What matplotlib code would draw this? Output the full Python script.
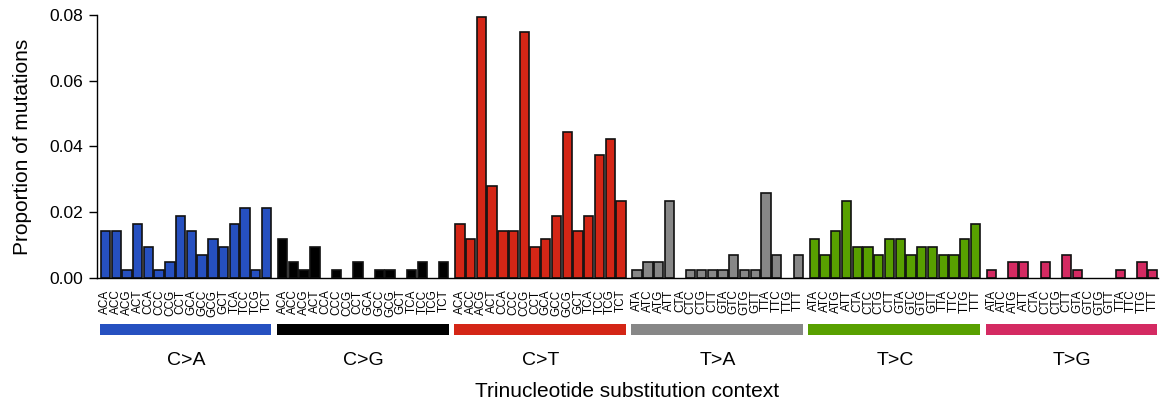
import matplotlib
matplotlib.use('Agg')
import matplotlib.pyplot as plt
from matplotlib.patches import Rectangle

plt.rcParams['font.family'] = ['Liberation Sans', 'DejaVu Sans']

# substitution types and their colours
mut_types = ['C>A', 'C>G', 'C>T', 'T>A', 'T>C', 'T>G']
colors = ['#2650C0', '#000000', '#D42616', '#878787', '#58A000', '#D42A62']

c_context = ['ACA', 'ACC', 'ACG', 'ACT', 'CCA', 'CCC', 'CCG', 'CCT',
             'GCA', 'GCC', 'GCG', 'GCT', 'TCA', 'TCC', 'TCG', 'TCT']
t_context = ['ATA', 'ATC', 'ATG', 'ATT', 'CTA', 'CTC', 'CTG', 'CTT',
             'GTA', 'GTC', 'GTG', 'GTT', 'TTA', 'TTC', 'TTG', 'TTT']

# proportions
ca = [0.0141, 0.0141, 0.0023, 0.0164, 0.0094, 0.0023, 0.0047, 0.0187,
      0.0141, 0.0070, 0.0117, 0.0094, 0.0164, 0.0211, 0.0023, 0.0211]
cg = [0.0117, 0.0047, 0.0023, 0.0094, 0, 0.0023, 0, 0.0047,
      0, 0.0023, 0.0023, 0, 0.0023, 0.0047, 0, 0.0047]
ct = [0.0164, 0.0117, 0.0796, 0.0281, 0.0141, 0.0141, 0.0749, 0.0094,
      0.0117, 0.0187, 0.0445, 0.0141, 0.0187, 0.0375, 0.0422, 0.0234]
ta = [0.0023, 0.0047, 0.0047, 0.0234, 0, 0.0023, 0.0023, 0.0023,
      0.0023, 0.0070, 0.0023, 0.0023, 0.0258, 0.0070, 0, 0.0070]
tc = [0.0117, 0.0070, 0.0141, 0.0234, 0.0094, 0.0094, 0.0070, 0.0117,
      0.0117, 0.0070, 0.0094, 0.0094, 0.0070, 0.0070, 0.0117, 0.0164]
tg = [0.0023, 0, 0.0047, 0.0047, 0, 0.0047, 0, 0.0070,
      0.0023, 0, 0, 0, 0.0023, 0, 0.0047, 0.0023]

values = [ca, cg, ct, ta, tc, tg]
contexts = [c_context] * 3 + [t_context] * 3

fig = plt.figure(figsize=(11.6, 4.07), dpi=100)
ax = fig.add_axes([0.0834, 0.3177, 0.9149, 0.6447])

gap = 16.5  # width of one group incl. the little space between groups
xpos_all = []
labels_all = []
for g in range(6):
    xs = [g * gap + i for i in range(16)]
    edges = ['none' if v == 0 else '#111111' for v in values[g]]  # no outline for empty bars
    ax.bar(xs, values[g], width=0.87, color=colors[g], edgecolor=edges, linewidth=1.2)
    xpos_all += xs
    labels_all += contexts[g]
    # coloured strip under the context labels
    ax.add_patch(Rectangle((xs[0] - 0.55, -0.2184), 16.0, 0.0419,
                           transform=ax.get_xaxis_transform(), color=colors[g],
                           clip_on=False, linewidth=0))
    ax.text(xs[0] + 7.5, -0.316, mut_types[g], transform=ax.get_xaxis_transform(),
            ha='center', va='center', fontsize=14)

ax.set_xlim(-0.81, 98.0)
ax.set_ylim(0, 0.08)
ax.set_yticks([0, 0.02, 0.04, 0.06, 0.08])
ax.set_yticklabels(['0.00', '0.02', '0.04', '0.06', '0.08'])
ax.set_xticks(xpos_all)
ax.set_xticklabels(labels_all, rotation=90, fontsize=8.5)
ax.tick_params(axis='x', length=0, pad=8.5)
ax.tick_params(axis='y', labelsize=12.5, length=6, width=1, direction='out')

ax.spines['top'].set_visible(False)
ax.spines['right'].set_visible(False)
ax.spines['left'].set_linewidth(1)
ax.spines['bottom'].set_linewidth(1)

ax.set_ylabel('Proportion of mutations', fontsize=15, labelpad=13)
ax.text(0.5, -0.432, 'Trinucleotide substitution context', transform=ax.transAxes,
        ha='center', va='center', fontsize=15)

plt.savefig('out.png', dpi=100)
